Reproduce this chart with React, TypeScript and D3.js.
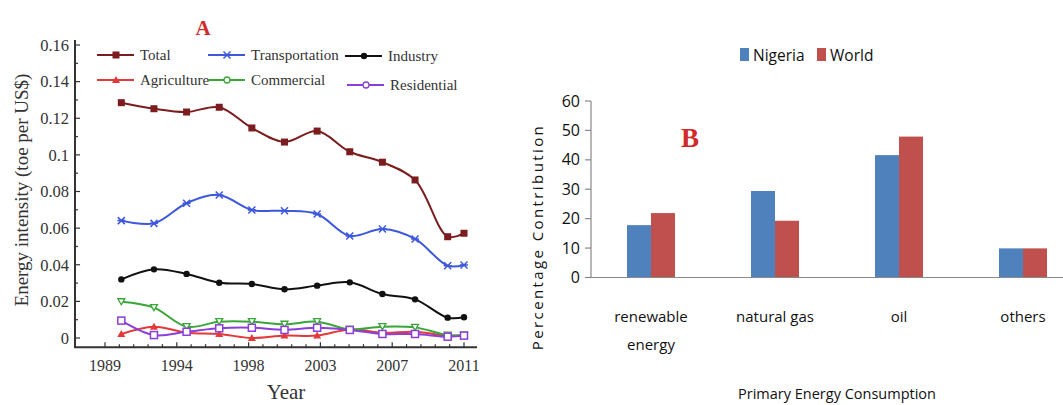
import React from 'react';
import * as d3 from 'd3';

// ---- panel A data (toe per US$) ----
const years = [1990, 1992, 1994, 1996, 1998, 2000, 2002, 2004, 2006, 2008, 2010, 2011];
const total = [0.1285, 0.1252, 0.1234, 0.126, 0.1147, 0.107, 0.113, 0.1017, 0.096, 0.0863, 0.0553, 0.0572];
const transportation = [0.0641, 0.0626, 0.0736, 0.0781, 0.0699, 0.0695, 0.0677, 0.0557, 0.0595, 0.0541, 0.0395, 0.0399];
const industry = [0.032, 0.0375, 0.035, 0.0302, 0.0295, 0.0266, 0.0286, 0.0304, 0.024, 0.0211, 0.0111, 0.0113];
const agriculture = [0.0022, 0.0062, 0.0029, 0.0022, 0.0, 0.0013, 0.0013, 0.0047, 0.0029, 0.0034, 0.0013, 0.0013];
const commercial = [0.0198, 0.0166, 0.0062, 0.0089, 0.0089, 0.0075, 0.0089, 0.0047, 0.0062, 0.0058, 0.0016, 0.0016];
const residential = [0.0095, 0.0016, 0.0034, 0.0053, 0.0056, 0.0044, 0.0056, 0.0044, 0.0022, 0.0022, 0.0007, 0.0013];
const yearTickLabels = ['1989', '1994', '1998', '2003', '2007', '2011'];
const intensityTicks = [0, 0.02, 0.04, 0.06, 0.08, 0.1, 0.12, 0.14, 0.16];

// ---- panel B data (%) ----
const categories = ['renewable energy', 'natural gas', 'oil', 'others'];
const categoryLines = [['renewable', 'energy'], ['natural gas'], ['oil'], ['others']];
const nigeria = [17.8, 29.4, 41.6, 9.9];
const world = [21.9, 19.3, 47.9, 9.9];
const percentTicks = [0, 10, 20, 30, 40, 50, 60];

type MarkerType = 'square' | 'star' | 'dot' | 'triangle' | 'tridown' | 'osquare' | 'circle';

const seriesA: { name: string; values: number[]; color: string; marker: MarkerType; legendMarker: MarkerType }[] = [
  { name: 'Total', values: total, color: '#7b1c1f', marker: 'square', legendMarker: 'square' },
  { name: 'Transportation', values: transportation, color: '#3d58dc', marker: 'star', legendMarker: 'star' },
  { name: 'Industry', values: industry, color: '#111111', marker: 'dot', legendMarker: 'dot' },
  { name: 'Agriculture', values: agriculture, color: '#e3393a', marker: 'triangle', legendMarker: 'triangle' },
  { name: 'Commercial', values: commercial, color: '#3aa63a', marker: 'tridown', legendMarker: 'circle' },
  { name: 'Residential', values: residential, color: '#8b3fd8', marker: 'osquare', legendMarker: 'circle' },
];

const Marker = ({ type, x, y, color }: { type: MarkerType; x: number; y: number; color: string }) => {
  switch (type) {
    case 'square':
      return <rect x={x - 3.5} y={y - 3.5} width={7} height={7} fill={color} />;
    case 'osquare':
      return <rect x={x - 3.5} y={y - 3.5} width={7} height={7} fill="#fff" stroke={color} strokeWidth={1.5} />;
    case 'dot':
      return <circle cx={x} cy={y} r={3.2} fill={color} />;
    case 'circle':
      return <circle cx={x} cy={y} r={3} fill="#fff" stroke={color} strokeWidth={1.3} />;
    case 'triangle':
      return <path d={`M${x},${y - 4}L${x + 4},${y + 3}L${x - 4},${y + 3}Z`} fill={color} />;
    case 'tridown':
      return <path d={`M${x - 3.5},${y - 3}L${x + 3.5},${y - 3}L${x},${y + 3}Z`} fill="#fff" stroke={color} strokeWidth={1.3} />;
    case 'star':
      return (
        <path
          d={`M${x - 3.5},${y - 3.5}L${x + 3.5},${y + 3.5}M${x + 3.5},${y - 3.5}L${x - 3.5},${y + 3.5}M${x - 4},${y}L${x + 4},${y}`}
          stroke={color}
          strokeWidth={1.5}
        />
      );
  }
  return null;
};

const PanelA = () => {
  const x = d3.scaleLinear().domain([1989, 2011]).range([105, 464]);
  const y = d3.scaleLinear().domain([0, 0.16]).range([338, 45]);
  const axisX = 75;
  const axisY = y(-0.005);
  const serif = '"Liberation Serif", "Times New Roman", serif';
  const line = d3
    .line<number>()
    .x((_, i) => x(years[i]))
    .y((d) => y(d))
    .curve(d3.curveCatmullRom.alpha(0.5));

  const majorX = yearTickLabels.map((_, i) => 1989 + i * 4.4);
  const minorX = d3.range(0, 26).map((i) => 1989 + i * 0.88).filter((v) => v <= 2011.5);
  const minorY = d3.range(0, 0.161, 0.01);

  const legendRows = [
    { s: seriesA[0], x: 97, y: 55 },
    { s: seriesA[1], x: 208, y: 55 },
    { s: seriesA[2], x: 345, y: 56 },
    { s: seriesA[3], x: 97, y: 80 },
    { s: seriesA[4], x: 208, y: 80 },
    { s: seriesA[5], x: 347, y: 85 },
  ];

  return (
    <g>
      <text x={203} y={35} textAnchor="middle" fill="#d22a2a" fontFamily={serif} fontWeight="bold" fontSize={21}>A</text>
      {/* axes */}
      <line x1={axisX} x2={axisX} y1={40} y2={axisY} stroke="#333" strokeWidth={2} />
      <line x1={axisX - 1} x2={477} y1={axisY} y2={axisY} stroke="#333" strokeWidth={2} />
      {minorY.map((v, i) => (
        <line key={'my' + i} x1={axisX} x2={axisX + (i % 2 === 0 ? 5 : 3)} y1={y(v)} y2={y(v)} stroke="#333" strokeWidth={1.2} />
      ))}
      {intensityTicks.map((v) => (
        <text key={'yl' + v} x={axisX - 6} y={y(v)} dy="0.35em" textAnchor="end" fontFamily={serif} fontSize={16.5} fill="#333">
          {String(+v.toFixed(2))}
        </text>
      ))}
      {minorX.map((v, i) => (
        <line key={'mx' + i} x1={x(v)} x2={x(v)} y1={axisY} y2={axisY - (i % 5 === 0 ? 5 : 3)} stroke="#333" strokeWidth={1.2} />
      ))}
      {majorX.map((v, i) => (
        <text key={'xl' + i} x={x(v)} y={371} textAnchor="middle" fontFamily={serif} fontSize={16} fill="#333">
          {yearTickLabels[i]}
        </text>
      ))}
      <text x={286} y={399} textAnchor="middle" fontFamily={serif} fontSize={21} fill="#333">Year</text>
      <text
        transform={`translate(28,190) rotate(-90)`}
        textAnchor="middle"
        fontFamily={serif}
        fontSize={19}
        fill="#333"
      >
        Energy intensity (toe per US$)
      </text>
      {/* series */}
      {seriesA.map((s) => (
        <g key={s.name}>
          <path d={line(s.values) || ''} fill="none" stroke={s.color} strokeWidth={2} />
          {s.values.map((v, i) => (
            <Marker key={i} type={s.marker} x={x(years[i])} y={y(v)} color={s.color} />
          ))}
        </g>
      ))}
      {/* legend */}
      {legendRows.map(({ s, x: lx, y: ly }) => (
        <g key={'lg' + s.name}>
          <line x1={lx} x2={lx + 37} y1={ly} y2={ly} stroke={s.color} strokeWidth={2} />
          <Marker type={s.legendMarker} x={lx + 19} y={ly} color={s.color} />
          <text x={lx + 43} y={ly} dy="0.32em" fontFamily={serif} fontSize={15} fill="#333">{s.name}</text>
        </g>
      ))}
    </g>
  );
};

const PanelB = () => {
  const sans = '"Open Sans", "Noto Sans", sans-serif';
  const x = d3.scaleBand<string>().domain(categories).range([589, 1085]).paddingInner(0.613).paddingOuter(0.3065);
  const sub = d3.scaleBand<string>().domain(['Nigeria', 'World']).range([0, x.bandwidth()]);
  const y = d3.scaleLinear().domain([0, 60]).range([277.5, 101]);
  const axisX = 591;
  const colors: Record<string, string> = { Nigeria: '#4f81bd', World: '#c0504d' };

  return (
    <g>
      <text x={690} y={147} textAnchor="middle" fill="#d22a2a" fontFamily='"Liberation Serif", serif' fontWeight="bold" fontSize={27}>B</text>
      {/* legend */}
      {['Nigeria', 'World'].map((k, i) => (
        <g key={k}>
          <rect x={740 + i * 77} y={48} width={9} height={13} fill={colors[k]} />
          <text x={753 + i * 77} y={61} fontFamily={sans} fontSize={15.5} fill="#111">{k}</text>
        </g>
      ))}
      {/* bars */}
      {categories.map((c, i) => (
        <g key={c}>
          <rect x={(x(c) || 0) + (sub('Nigeria') || 0)} y={y(nigeria[i])} width={sub.bandwidth()} height={y(0) - y(nigeria[i])} fill={colors.Nigeria} />
          <rect x={(x(c) || 0) + (sub('World') || 0)} y={y(world[i])} width={sub.bandwidth()} height={y(0) - y(world[i])} fill={colors.World} />
        </g>
      ))}
      {/* axes */}
      <line x1={axisX} x2={axisX} y1={y(60)} y2={y(0)} stroke="#888" strokeWidth={1.2} />
      <line x1={axisX - 6} x2={1063} y1={y(0)} y2={y(0)} stroke="#888" strokeWidth={1.2} />
      {percentTicks.map((v) => (
        <g key={v}>
          <line x1={axisX - 6} x2={axisX} y1={y(v)} y2={y(v)} stroke="#888" strokeWidth={1.2} />
          <text x={axisX - 11} y={y(v)} dy="0.35em" textAnchor="end" fontFamily={sans} fontSize={16} fill="#111">{v}</text>
        </g>
      ))}
      {categories.map((c, i) => (
        <text key={'cl' + c} textAnchor="middle" fontFamily={sans} fontSize={15} fill="#111">
          {categoryLines[i].map((ln, j) => (
            <tspan key={j} x={(x(c) || 0) + x.bandwidth() / 2} y={322 + j * 28}>{ln}</tspan>
          ))}
        </text>
      ))}
      <text x={837} y={399} textAnchor="middle" fontFamily={sans} fontSize={14.5} fill="#111">Primary Energy Consumption</text>
      <text transform="translate(543,237) rotate(-90)" textAnchor="middle" fontFamily={sans} fontSize={15} letterSpacing={2.4} fill="#111">
        Percentage Contribution
      </text>
    </g>
  );
};

export default function App() {
  return (
    <svg
      width={1063}
      height={405}
      style={{ position: 'absolute', left: 0, top: 0, background: '#fff' }}
    >
      <rect width={1063} height={405} fill="#fff" />
      <PanelA />
      <PanelB />
    </svg>
  );
}
